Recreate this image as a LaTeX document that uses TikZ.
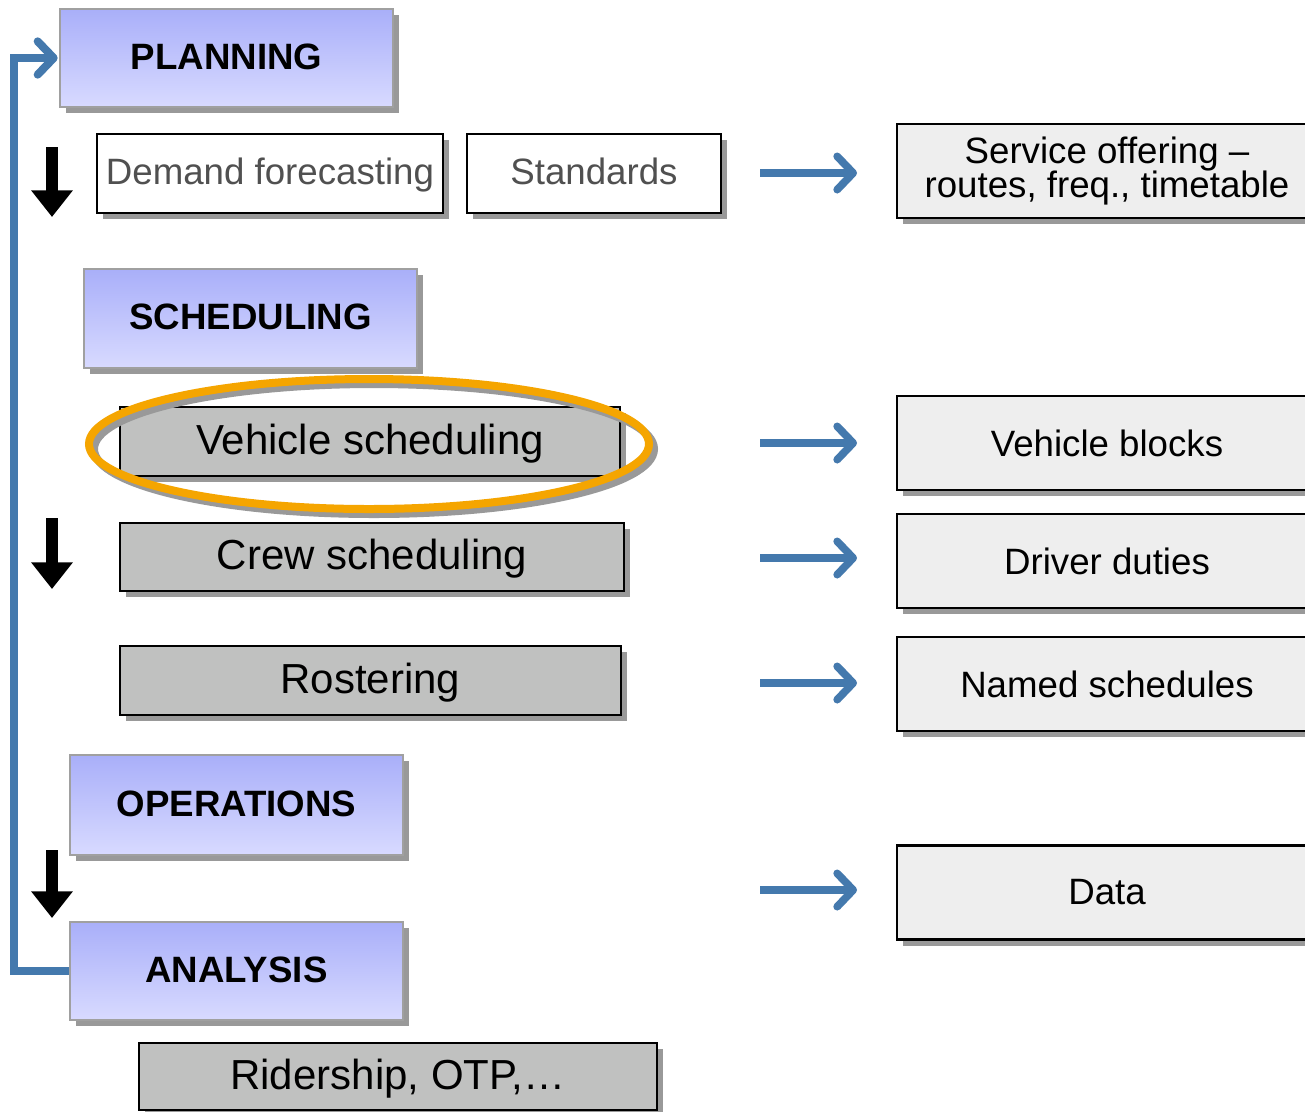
\documentclass[tikz,border=0pt]{standalone}
\usepackage{fontspec}
\setmainfont{Liberation Sans}
\usetikzlibrary{shadows,shapes.geometric,arrows.meta}
\definecolor{shgray}{HTML}{999999}
\definecolor{phtop}{HTML}{A9AFF9}
\definecolor{phbot}{HTML}{D8DAFF}
\definecolor{phborder}{HTML}{A0A0A0}
\definecolor{boxgray}{HTML}{C0C1C0}
\definecolor{outgray}{HTML}{EEEEEE}
\definecolor{flowblue}{HTML}{4479AD}
\definecolor{hlorange}{HTML}{F5A500}
\definecolor{txtgray}{HTML}{505050}
\tikzset{
  shad/.style={drop shadow={shadow xshift=4.5pt, shadow yshift=-4.5pt, fill=shgray, opacity=1}},
  phase/.style={shad, draw=phborder, line width=1.5pt, top color=phtop, bottom color=phbot,
    minimum width=333*0.75pt, inner sep=0pt, text height=20.6pt, text depth=4pt,
    font=\fontsize{27.5}{33}\selectfont\bfseries},
  inbox/.style={shad, draw=black, line width=2pt, fill=white, inner sep=0pt,
    text height=20.6pt, text depth=4pt,
    minimum height=79*0.75pt, text=txtgray, font=\fontsize{27.5}{33}\selectfont},
  taskbox/.style={shad, draw=black, line width=2pt, fill=boxgray, inner sep=0pt,
    text height=23.6pt, text depth=4.6pt,
    font=\fontsize{31.5}{38}\selectfont},
  outbox/.style={shad, draw=black, line width=2pt, fill=outgray, inner sep=0pt,
    minimum width=420*0.75pt, minimum height=94*0.75pt, align=center,
    font=\fontsize{27.5}{26}\selectfont},
  flowarrow/.style={draw=flowblue, line width=5.75pt,
    -{Straight Barb[length=12pt, width=25pt, line cap=round, line join=round]}},
  downarrow/.style={draw=black, line width=9.5pt, -{Triangle[length=20pt, width=30pt]}},
  hlring/.style={ellipse, line width=6pt, minimum width=560*0.75pt, minimum height=130*0.75pt, inner sep=0pt},
}
\begin{document}
\begin{tikzpicture}[x=0.75pt, y=-0.75pt]
\useasboundingbox (0,0) rectangle (1305,1111);
\fill[white] (0,0) rectangle (1305,1111);

% phase boxes
\node[phase, minimum height=98*0.75pt] (plan) at (226.5,58) {PLANNING};
\node[phase, minimum height=99*0.75pt] (sched) at (250.5,318.5) {SCHEDULING};
\node[phase, minimum height=100*0.75pt] (ops) at (236.5,805) {OPERATIONS};
\node[phase, minimum height=98*0.75pt] (ana) at (236.5,971) {ANALYSIS};

% inputs
\node[inbox, minimum width=346*0.75pt] (demand) at (270,173.5) {Demand forecasting};
\node[inbox, minimum width=254*0.75pt] (std) at (594,173.5) {Standards};

% tasks
\node[taskbox, minimum width=500*0.75pt, minimum height=69*0.75pt] (veh) at (370,441.5) {Vehicle scheduling};
\node[taskbox, minimum width=504*0.75pt, minimum height=68*0.75pt] (crew) at (372,557) {Crew scheduling};
\node[taskbox, minimum width=501*0.75pt, minimum height=69*0.75pt] (rost) at (370.5,680.5) {Rostering};
\node[taskbox, minimum width=518*0.75pt, minimum height=67*0.75pt] (rider) at (398,1076.5) {Ridership, OTP,\ldots};

% highlight ellipse
\node[hlring, draw=shgray] (hlshadow) at (374,449) {};
\node[hlring, draw=hlorange] (hl) at (369,444) {};

% outputs
\node[outbox] (service) at (1107,171) {Service offering --\\routes, freq., timetable};
\node[outbox] (blocks) at (1107,443) {Vehicle blocks};
\node[outbox] (duties) at (1107,561) {Driver duties};
\node[outbox] (named) at (1107,684) {Named schedules};
\node[outbox] (data) at (1107,892.5) {Data};

% blue output arrows
\coordinate (s1) at (760,173);
\coordinate (s2) at (760,443);
\coordinate (s3) at (760,558);
\coordinate (s4) at (760,683);
\coordinate (s5) at (760,890);
\draw[flowarrow, shorten >=29pt] (s1) -- (s1 -| service.west);
\draw[flowarrow, shorten >=29pt] (s2) -- (s2 -| blocks.west);
\draw[flowarrow, shorten >=29pt] (s3) -- (s3 -| duties.west);
\draw[flowarrow, shorten >=29pt] (s4) -- (s4 -| named.west);
\draw[flowarrow, shorten >=29pt] (s5) -- (s5 -| data.west);

% feedback loop
\draw[flowarrow, line width=6pt, line cap=butt, line join=miter, shorten >=1pt] (ana.west) -- ++(-55,0) |- (plan.west);

% black down arrows
\coordinate (d1a) at (52,147); \coordinate (d1b) at (52,217);
\coordinate (d2a) at (52,518); \coordinate (d2b) at (52,589);
\coordinate (d3a) at (52,850); \coordinate (d3b) at (52,918);
\draw[downarrow] (d1a) -- (d1b);
\draw[downarrow] (d2a) -- (d2b);
\draw[downarrow] (d3a) -- (d3b);
\end{tikzpicture}
\end{document}
